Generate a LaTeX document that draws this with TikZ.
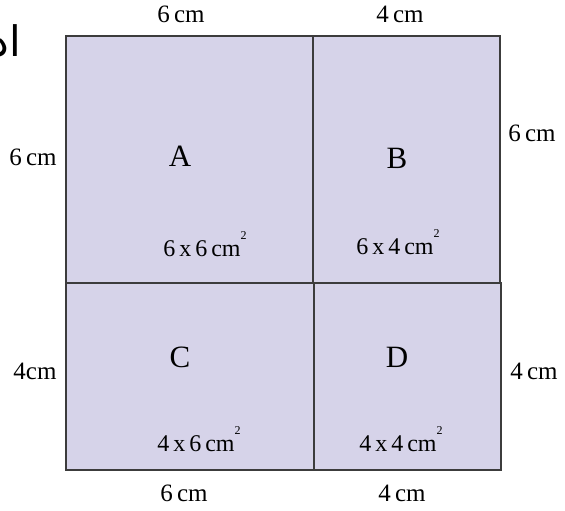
\documentclass[tikz,border=0pt]{standalone}
\usepackage{fontspec}
\setmainfont{Liberation Serif}
\newfontfamily\arabicfont[Script=Arabic]{DejaVu Sans}
\TeXXeTstate=1
\definecolor{lavender}{HTML}{D6D3E9}
\definecolor{edgegray}{HTML}{3C3C3C}
\newcommand{\sqcm}{cm\raisebox{17pt}{\fontsize{12}{13}\selectfont 2}}

\begin{document}
\begin{tikzpicture}[x=1pt,y=-1pt,
  part/.style={draw=edgegray,fill=lavender,line width=1.2pt},
  side/.style={font=\fontsize{25}{28}\selectfont,inner sep=0pt},
  letter/.style={font=\fontsize{31}{34}\selectfont,inner sep=0pt},
  area/.style={font=\fontsize{24}{27}\selectfont,inner sep=0pt}]
\useasboundingbox (0,0) rectangle (565,511);
\draw[part] (66,36) rectangle (313,283);
\draw[part] (313,36) rectangle (500,283);
\draw[part] (66,283) rectangle (314,470);
\draw[part] (314,283) rectangle (501,470);
\node[anchor=base east,font=\fontsize{42}{46}\selectfont,inner sep=0pt] (head) at (21,57) {\arabicfont\beginR اد\endR};
% side lengths
\node[side] (topA) at (181,14) {6\,cm};
\node[side] (topB) at (400,14) {4\,cm};
\node[side] (leftA) at (33,157) {6\,cm};
\node[side] (leftC) at (35,371) {4cm};
\node[side] (rightB) at (532,133) {6\,cm};
\node[side] (rightD) at (534,371) {4\,cm};
\node[side] (botC) at (184,493) {6\,cm};
\node[side] (botD) at (402,493) {4\,cm};
% parts
\node[letter] (A) at (180,156) {A};
\node[letter] (B) at (397,158) {B};
\node[letter] (C) at (180,357) {C};
\node[letter] (D) at (397,357) {D};
\node[area] (areaA) at (205,244) {6\,x\,6\,\sqcm};
\node[area] (areaB) at (398,242) {6\,x\,4\,\sqcm};
\node[area] (areaC) at (199,439) {4\,x\,6\,\sqcm};
\node[area] (areaD) at (401,439) {4\,x\,4\,\sqcm};
\end{tikzpicture}
\end{document}
